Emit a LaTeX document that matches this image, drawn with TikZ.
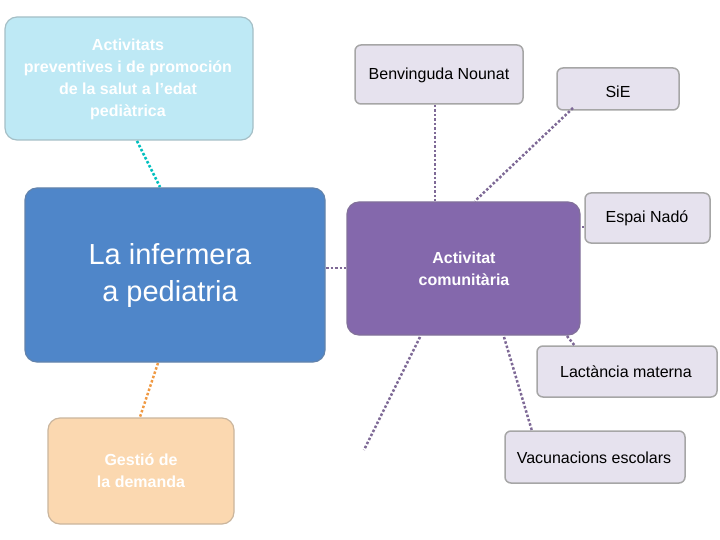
\documentclass[tikz,border=0pt]{standalone}
\usepackage{fontspec}
\setmainfont{Liberation Sans}
\begin{document}
\begin{tikzpicture}[x=1pt,y=-1pt,
 box/.style={draw=#1!60!gray,line width=1.2pt,rounded corners=12pt,fill=#1},
 small/.style={draw=gray!70,line width=1.5pt,rounded corners=6pt,fill=lav},
 lbl/.style={text=black,font=\fontsize{16}{19}\selectfont},
 conn/.style={dotted,line width=2.5pt,draw=#1}]
\definecolor{cy}{HTML}{BEE9F5}\definecolor{bl}{HTML}{4F86C9}\definecolor{pe}{HTML}{FBD8B0}
\definecolor{pu}{HTML}{8468AC}\definecolor{lav}{HTML}{E6E2EE}\definecolor{lc}{HTML}{7E6996}
\useasboundingbox (0,0) rectangle (720,540);
\path[box=cy] (5,17) rectangle (253,140);
\node[text=white,font=\bfseries\fontsize{16}{22}\selectfont,align=center] (a) at (128,79) {Activitats\\preventives i de promoción\\de la salut a l'edat\\pediàtrica};
\path[box=bl] (25,188) rectangle (325,362);
\node[text=white,font=\fontsize{29}{37}\selectfont,align=center] (b) at (170,276) {La infermera\\ a pediatria};
\path[box=pe] (48,418) rectangle (234,524);
\node[text=white,font=\bfseries\fontsize{16}{22}\selectfont,align=center] (c) at (141,471) {Gestió de\\la demanda};
\path[box=pu] (347,202) rectangle (580,335);
\node[text=white,font=\bfseries\fontsize{16}{22}\selectfont,align=center] (d) at (464,269) {Activitat\\comunitària};
\path[small] (355,45) rectangle (523,104);
\node[lbl] (e) at (439,75) {Benvinguda Nounat};
\path[small] (557,68) rectangle (679,110);
\node[lbl] (f) at (618,92) {SiE};
\path[small] (585,193) rectangle (710,243);
\node[lbl] (g) at (647,218) {Espai Nadó};
\path[small] (537,346) rectangle (717,397);
\node[lbl] (h) at (626,372) {Lactància materna};
\path[small] (505,431) rectangle (685,483);
\node[lbl] (i) at (594,458) {Vacunacions escolars};
\coordinate (z) at (364,450);
\draw[conn=teal!50!cyan] (137,141) -- (160,187);
\draw[conn=orange!70!brown!80] (158,363) -- (140,417);
\draw[conn=lc] (326,268) -- (346,268);
\draw[conn=lc] (435,105) -- (435,201);
\draw[conn=lc] (573,108) -- (475,201);
\draw[conn=lc] (584,227) -- (581,227);
\draw[conn=lc] (567,336) -- (575,346);
\draw[conn=lc] (504,337) -- (532,431);
\draw[conn=lc] (420,337) -- (z);
\end{tikzpicture}
\end{document}
